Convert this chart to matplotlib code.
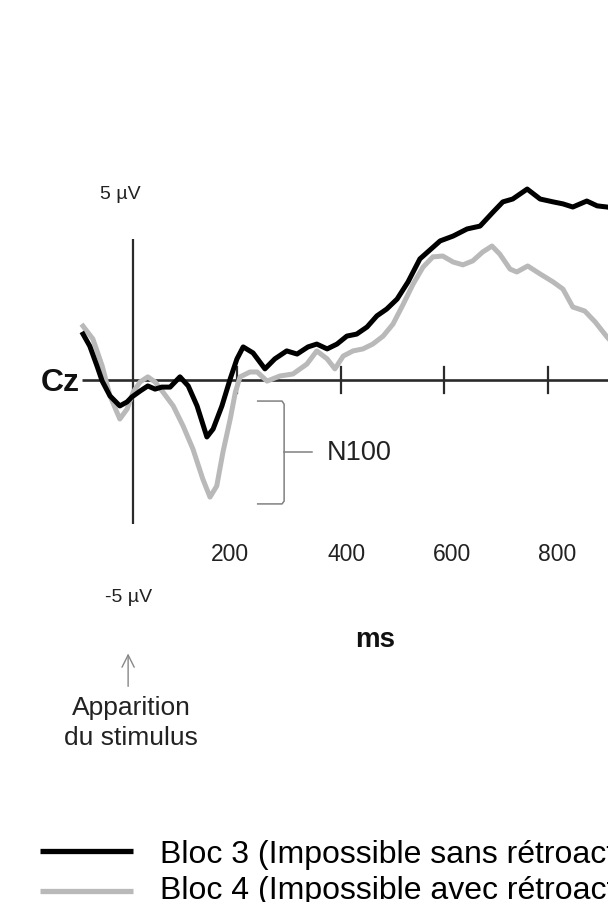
import numpy as np
import matplotlib
matplotlib.use('Agg')
import matplotlib.pyplot as plt

plt.rcParams['font.family'] = ['Liberation Sans', 'DejaVu Sans']

# ERP at Cz, time in ms, amplitude in microvolts
t_bloc3 = [-97, -84, -70, -60, -45, -26, -12, -3, 13, 28, 42, 55, 71, 90, 106,
           123, 142, 154, 171, 187, 200, 212, 231, 254, 273, 296, 316, 337, 354,
           374, 393, 412, 431, 451, 470, 489, 509, 530, 553, 592, 617, 644, 669,
           694, 713, 732, 760, 785, 810, 829, 848, 875, 895, 914, 935]
v_bloc3 = [1.61, 1.19, 0.49, -0.04, -0.56, -0.91, -0.77, -0.60, -0.39, -0.21,
           -0.32, -0.25, -0.25, 0.11, -0.21, -0.91, -2.00, -1.72, -0.91, 0.04,
           0.74, 1.16, 0.95, 0.39, 0.74, 1.02, 0.91, 1.16, 1.26, 1.09, 1.26,
           1.54, 1.61, 1.86, 2.25, 2.49, 2.84, 3.44, 4.25, 4.88, 5.05, 5.30,
           5.40, 5.89, 6.25, 6.35, 6.70, 6.35, 6.25, 6.18, 6.07, 6.28, 6.11,
           6.07, 6.00]

t_bloc4 = [-97, -78, -60, -45, -26, -12, 0, 13, 28, 42, 57, 77, 96, 115, 134,
           148, 161, 173, 187, 197, 206, 225, 239, 258, 283, 308, 335, 354, 374,
           389, 405, 424, 443, 462, 482, 501, 520, 540, 559, 578, 597, 617, 636,
           655, 674, 692, 707, 727, 740, 761, 785, 810, 829, 848, 871, 891, 914,
           935]
v_bloc4 = [1.89, 1.44, 0.49, -0.56, -1.37, -1.02, -0.42, -0.07, 0.11, -0.07,
           -0.42, -0.91, -1.61, -2.42, -3.47, -4.11, -3.72, -2.53, -1.37, -0.42,
           0.11, 0.28, 0.28, -0.04, 0.14, 0.21, 0.56, 1.02, 0.74, 0.39, 0.84,
           1.02, 1.09, 1.26, 1.54, 1.96, 2.63, 3.37, 3.96, 4.32, 4.35, 4.14,
           4.04, 4.18, 4.49, 4.70, 4.42, 3.89, 3.79, 4.00, 3.72, 3.44, 3.19,
           2.56, 2.42, 2.04, 1.51, 1.09]

tick_ms = [200, 400, 600, 800]
tick_labels = ['200', '400', '600', '800']
label_nudge = [-13, 12, 15, 18]

labels = ['Bloc 3 (Impossible sans rétroaction)',
          'Bloc 4 (Impossible avec rétroaction)']

axcol = '#2b2b2b'
txtcol = '#222222'

fig = plt.figure(figsize=(6.08, 9.03), dpi=100)
ax = fig.add_axes([0, 0, 1, 1])
# 0.5183 px per ms, 28.5 px per uV, origin at pixel (133.3, 381)
ax.set_xlim(-257.2, 915.9)
ax.set_ylim(-18.32, 13.37)
ax.axis('off')

# axes of the ERP plot
ax.plot([-99, 1000], [0, 0], color=axcol, lw=1.9, solid_capstyle='butt', zorder=1)
ax.plot([0, 0], [-5.05, 4.95], color=axcol, lw=1.6, solid_capstyle='butt', zorder=1)
for tm, lab, dx in zip(tick_ms, tick_labels, label_nudge):
    ax.plot([tm, tm], [-0.47, 0.47], color=axcol, lw=1.6, zorder=1)
    ax.text(tm + dx, -6.1, lab, ha='center', va='center', fontsize=16.5, color=txtcol)

ax.plot(t_bloc4, v_bloc4, color='#b9b9b9', lw=3.6, zorder=2)
ax.plot(t_bloc3, v_bloc3, color='black', lw=3.6, zorder=3)

ax.text(-103, -0.07, 'Cz', ha='right', va='center', fontsize=23, fontweight='bold', color='#111111')
ax.text(-26, 6.53, '5 µV', ha='center', va='center', fontsize=14, color=txtcol)
ax.text(-10, -7.61, '-5 µV', ha='center', va='center', fontsize=14, color=txtcol)
ax.text(466, -9.09, 'ms', ha='center', va='center', fontsize=20, fontweight='bold', color='#111111')

# N100 bracket
ax.plot([240, 287, 291, 291, 287, 240], [-0.74, -0.74, -0.85, -4.25, -4.35, -4.35],
        color='#808080', lw=1.1)
ax.plot([291, 345], [-2.53, -2.53], color='#808080', lw=1.1)
ax.text(374, -2.53, 'N100', ha='left', va='center', fontsize=19.5, color=txtcol)

# stimulus onset arrow
ax.annotate('', xy=(-10, -9.5), xytext=(-10, -10.85),
            arrowprops=dict(arrowstyle='->', color='#888888', lw=1.0, mutation_scale=22))
ax.text(-4, -12.0, 'Apparition\ndu stimulus', ha='center', va='center',
        fontsize=19, color=txtcol, linespacing=1.3)

# legend (text runs past the right edge, as in the original)
ax.plot([-180, 0], [-16.53, -16.53], color='black', lw=3.8, solid_capstyle='butt')
ax.plot([-180, 0], [-17.93, -17.93], color='#b9b9b9', lw=3.8, solid_capstyle='butt')
ax.text(52, -16.65, labels[0], ha='left', va='center', fontsize=23, color='black')
ax.text(52, -17.9, labels[1], ha='left', va='center', fontsize=23, color='black')

fig.savefig('out.png', dpi=100)
